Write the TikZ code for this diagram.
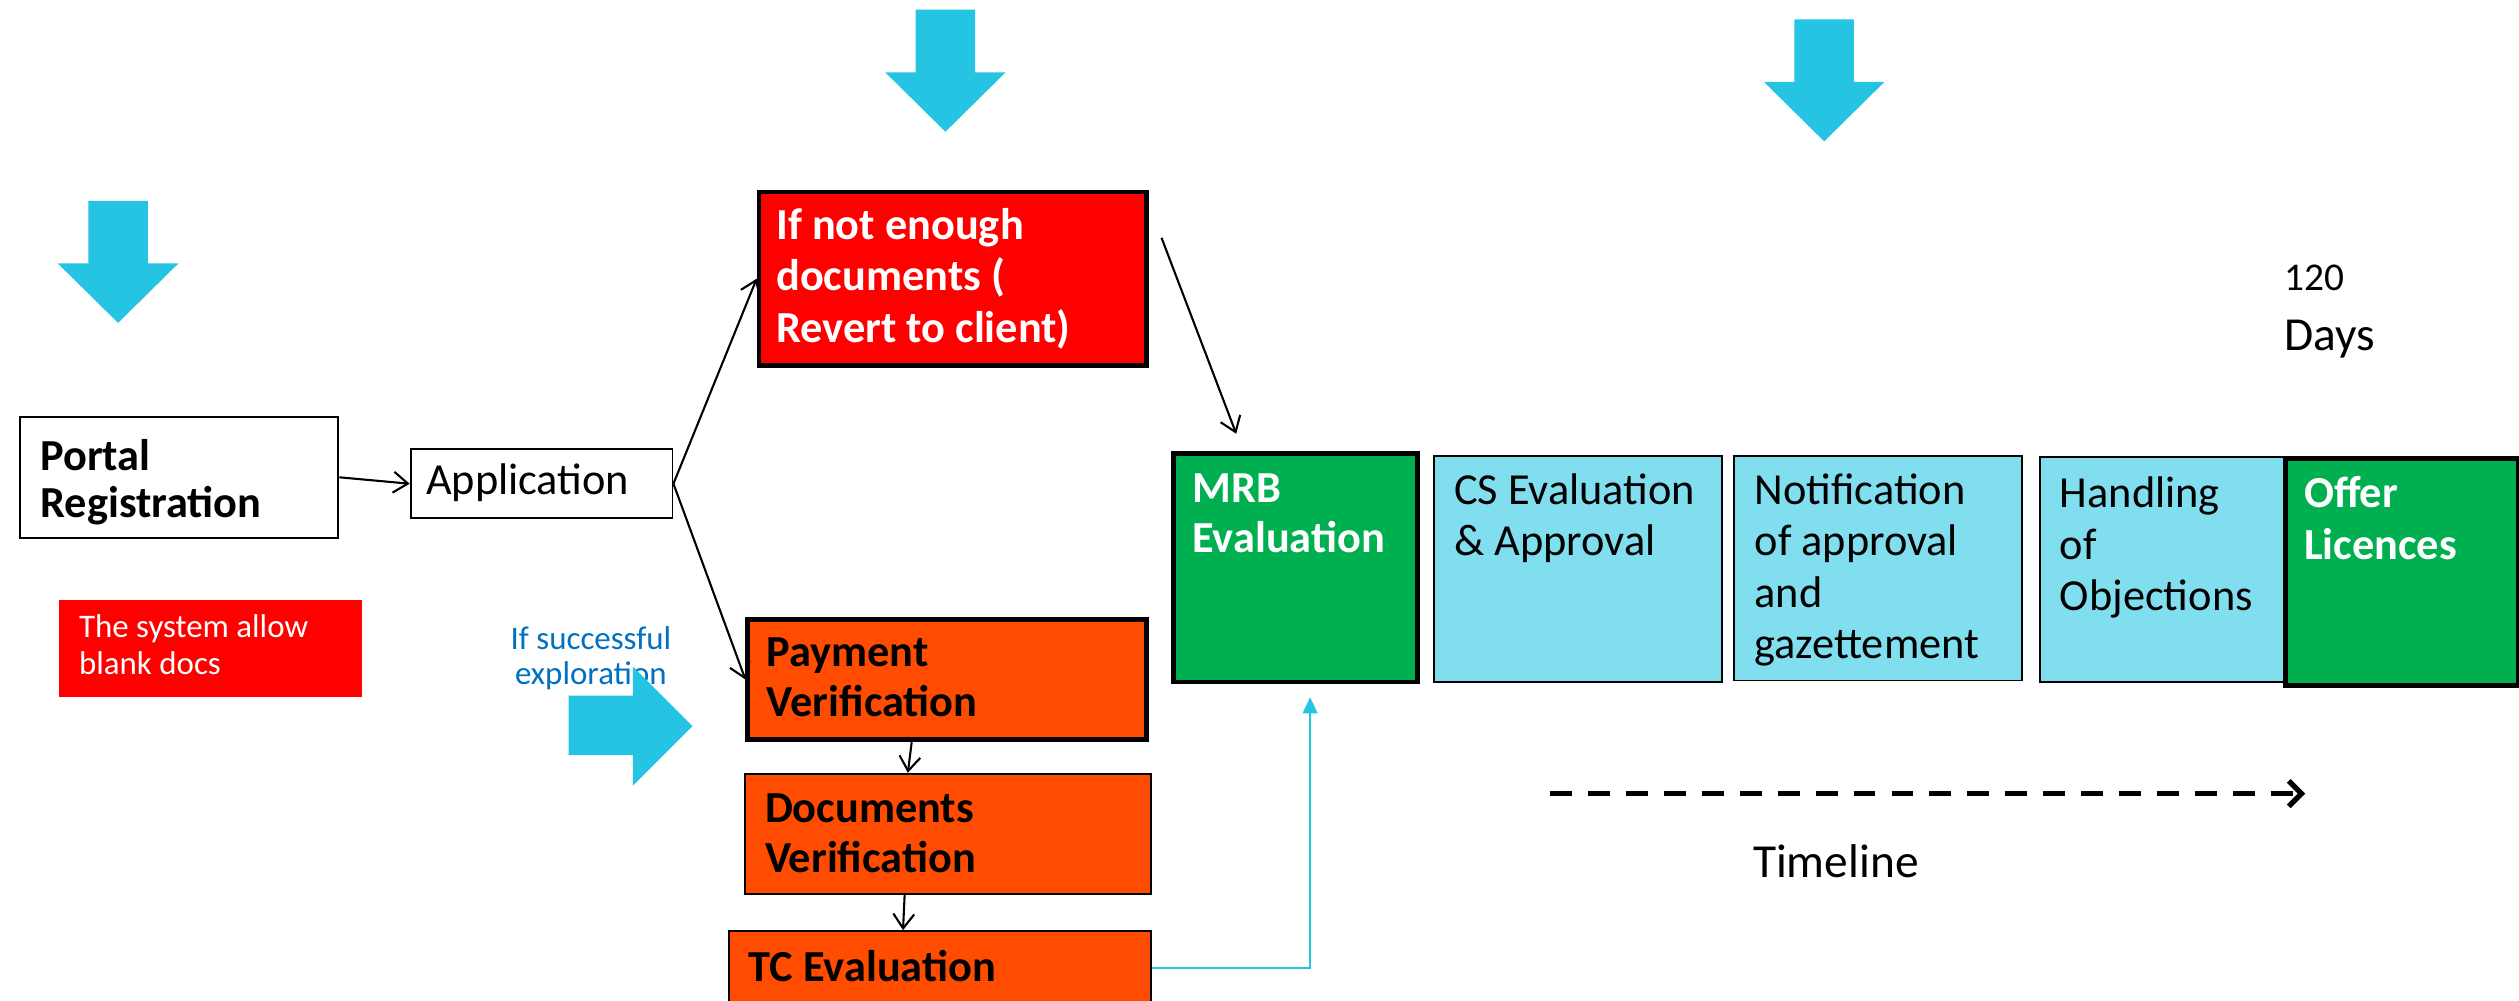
\documentclass[tikz,border=0pt]{standalone}
\usepackage{fontspec}
\setmainfont{Carlito}
\usetikzlibrary{arrows.meta}
\usetikzlibrary{calc}

\definecolor{flowcyan}{RGB}{37,196,226}
\definecolor{stagecyan}{RGB}{128,222,238}
\definecolor{okgreen}{RGB}{0,176,80}
\definecolor{warnred}{RGB}{255,0,0}
\definecolor{checkorange}{RGB}{255,76,0}
\definecolor{noteblue}{RGB}{0,112,192}

\tikzset{
  box/.style={draw, line width=1.2pt, inner sep=0pt, anchor=north west},
  heavybox/.style={box, line width=3pt},
  txt/.style={inner sep=0pt, anchor=base west, align=left, font=\fontsize{27.6}{32}\selectfont},
  btxt/.style={txt, font=\fontsize{27.6}{31}\selectfont\bfseries},
  flow/.style={line width=1.3pt, -{Straight Barb[length=9pt,width=13pt]}},
}

\begin{document}
\begin{tikzpicture}[x=1pt,y=-1pt]
\useasboundingbox (0,0) rectangle (1568,623);
\clip (0,0) rectangle (1568,623);

% left part (text nodes sit on the baseline of their last line)
\node[box, minimum width=198, minimum height=75] (portal) at (12,259) {};
\node[box, minimum width=163, minimum height=43] (app) at (255,279) {};
\node[box, draw=none, fill=warnred, minimum width=189, minimum height=60] (note) at (36,373) {};
\node[btxt, font=\fontsize{27.6}{29}\selectfont\bfseries] (portaltxt) at (25,322) {Portal\\Registration};
\node[txt] (apptxt) at (265,308) {Application};
\node[txt, text=white, font=\fontsize{20.5}{23}\selectfont] (notetxt) at (49,420) {The system allow\\blank docs};
\node[txt, anchor=base east, align=center, text=noteblue, font=\fontsize{20.5}{22}\selectfont] (succtxt) at (418,426) {If successful\\exploration};

% checks
\node[heavybox, fill=warnred, minimum width=241, minimum height=108] (notenough) at (471,118) {};
\node[heavybox, fill=checkorange, minimum width=248, minimum height=75] (pay) at (464,384) {};
\node[box, fill=checkorange, minimum width=253, minimum height=75] (docs) at (463,481) {};
\node[box, fill=checkorange, minimum width=263, minimum height=46] (tc) at (453,579) {};
\node[btxt, text=white, font=\fontsize{27.6}{32}\selectfont\bfseries] (notenoughtxt) at (483,213) {If not enough\\documents (\\Revert to client)};
\node[btxt] (paytxt) at (477,446) {Payment\\Verification};
\node[btxt] (docstxt) at (476,543) {Documents\\Verification};
\node[btxt] (tctxt) at (466,611) {TC Evaluation};

% stages
\node[heavybox, fill=okgreen, minimum width=152, minimum height=142] (mrb) at (729,281) {};
\node[box, fill=stagecyan, minimum width=179, minimum height=141] (cs) at (892,283) {};
\node[box, fill=stagecyan, minimum width=179, minimum height=140] (notif) at (1079,283) {};
\node[box, fill=stagecyan, minimum width=152, minimum height=140] (handl) at (1269,284) {};
\node[heavybox, fill=okgreen, minimum width=145, minimum height=141] (offer) at (1421,284) {};
\node[btxt, text=white, font=\fontsize{27.6}{31}\selectfont\bfseries] (mrbtxt) at (742,344) {MRB\\Evaluation};
\node[txt] (cstxt) at (905,346) {CS Evaluation\\\& Approval};
\node[txt] (notiftxt) at (1092,410) {Notification\\of approval\\and\\gazettement};
\node[txt] (handltxt) at (1282,380) {Handling\\of\\Objections};
\node[btxt, text=white, font=\fontsize{27.6}{32}\selectfont\bfseries] (offertxt) at (1434,348) {Offer\\Licences};

\node[txt, font=\fontsize{24.5}{28}\selectfont] (daysnum) at (1422,181) {120};
\node[txt, font=\fontsize{29.5}{34}\selectfont] (days) at (1422,218) {Days};
\node[txt, font=\fontsize{29.5}{34}\selectfont] (timeline) at (1091,546) {Timeline};

% big cyan arrows
\foreach \cx/\top in {73.5/125, 588.5/6, 1135.5/12}
  \fill[flowcyan] (\cx-18.5,\top) -- ++(37,0) -- ++(0,39) -- ++(19,0) -- (\cx,\top+76)
    -- (\cx-37.5,\top+39) -- ++(19,0) -- cycle;
\fill[flowcyan] (354,433) -- (394,433) -- (394,415) -- (431,452) -- (394,489) -- (394,470) -- (354,470) -- cycle;

% connectors
\draw[flow] (portal.east) -- (app.west);
\draw[flow] (app.east) -- (notenough.west);
\draw[flow] (app.east) -- (pay.west);
\draw[flow] ([xshift=8pt,yshift=-30pt]notenough.north east) -- ([xshift=-37pt,yshift=11pt]mrb.north);
\draw[flow] ([xshift=-22pt]pay.south) -- ([xshift=-25pt]docs.north);
\draw[flow] ([xshift=-27pt]docs.south) -- ([xshift=-23pt]tc.north);
\draw[flowcyan, line width=1.5pt, -{Triangle[length=10pt,width=9pt]}] (tc.east) -| ([xshift=9pt,yshift=-8pt]mrb.south);

% timeline
\coordinate (tlstart) at (965,494);
\coordinate (tlend) at (1435,494);
\draw[line width=3.3pt, dash pattern=on 13.6pt off 10pt, -{Straight Barb[length=8pt,width=16pt]}] (tlstart) -- (tlend);
\end{tikzpicture}
\end{document}
